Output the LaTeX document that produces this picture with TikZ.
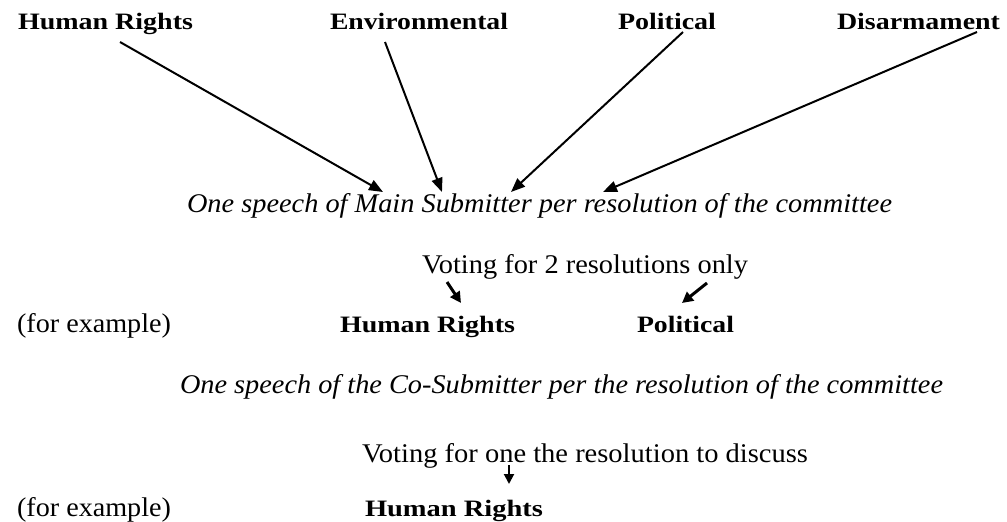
\documentclass[tikz,border=0pt]{standalone}
\usepackage{fontspec}
\setmainfont{Liberation Serif}
\usetikzlibrary{arrows.meta}
\newcommand\fitw[2]{\resizebox{#1pt}{\height}{#2}}
\begin{document}
\begin{tikzpicture}[x=1pt,y=-1pt,
  lbl/.style={anchor=base west,inner sep=0pt,outer sep=0pt},
  bl/.style={lbl,font=\fontsize{23.5}{28}\selectfont\bfseries},
  it/.style={lbl,font=\fontsize{27}{31}\selectfont\itshape},
  rm/.style={lbl,font=\fontsize{27}{31}\selectfont},
  arr/.style={line width=2pt,-{Triangle[length=14pt,width=11pt]}},
  sarr/.style={line width=3pt,-{Triangle[length=11pt,width=11pt]}},
  darr/.style={line width=2pt,-{Triangle[length=10pt,width=10pt]}}]
\useasboundingbox (0,0) rectangle (1007,522);
\fill[white] (0,0) rectangle (1007,522);
% top labels
\node[bl] (hr1) at (18,30) {\fitw{175}{Human Rights}};
\node[bl] (env) at (330,30) {\fitw{178}{Environmental}};
\node[bl] (pol) at (618,30) {\fitw{98}{Political}};
\node[bl] (dis) at (837,30) {\fitw{163}{Disarmament}};
% main submitter line
\node[it] (ms) at (187,212) {\fitw{705}{One speech of Main Submitter per resolution of the committee}};
% voting 2
\node[rm] (v2) at (422,273) {\fitw{326}{Voting for 2 resolutions only}};
\node[rm] (fe1) at (17,332) {\fitw{154}{(for example)}};
\node[bl] (hr2) at (340,332) {\fitw{175}{Human Rights}};
\node[bl] (pol2) at (637,332) {\fitw{97}{Political}};
% co-submitter line
\node[it] (cs) at (180,393) {\fitw{763}{One speech of the Co-Submitter per the resolution of the committee}};
% voting 1
\node[rm] (v1) at (362,462) {\fitw{446}{Voting for one the resolution to discuss}};
\node[rm] (fe2) at (17,516) {\fitw{154}{(for example)}};
\node[bl] (hr3) at (365,516) {\fitw{178}{Human Rights}};
% connector end points
\coordinate (a1) at (120,42);  \coordinate (b1) at (383,192);
\coordinate (a2) at (385,42);  \coordinate (b2) at (442,192);
\coordinate (a3) at (683,32);  \coordinate (b3) at (511,192);
\coordinate (a4) at (977,32);  \coordinate (b4) at (603,192);
\coordinate (a5) at (447,282); \coordinate (b5) at (461,303);
\coordinate (a6) at (707,283); \coordinate (b6) at (682,303);
\coordinate (a7) at (509,465); \coordinate (b7) at (509,484);
\draw[arr] (a1) -- (b1);
\draw[arr] (a2) -- (b2);
\draw[arr] (a3) -- (b3);
\draw[arr] (a4) -- (b4);
\draw[sarr] (a5) -- (b5);
\draw[sarr] (a6) -- (b6);
\draw[darr] (a7) -- (b7);
\end{tikzpicture}
\end{document}
